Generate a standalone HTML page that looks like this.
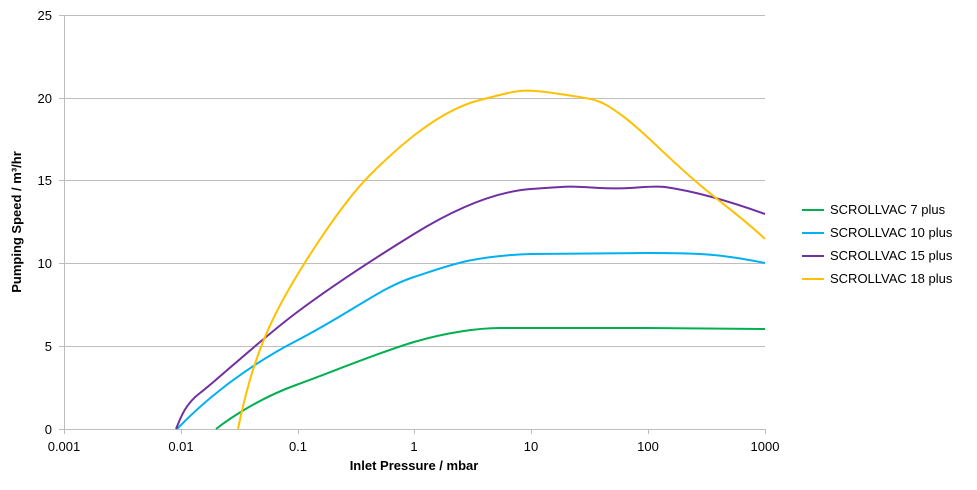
<!DOCTYPE html><html><head><style>body{margin:0;background:#fff}svg{display:block}text{font-family:"Liberation Sans",sans-serif;font-size:13px;fill:#000}</style></head><body>
<svg width="977" height="490" viewBox="0 0 977 490">
<g stroke="#bdbdbd" stroke-width="1">
<line x1="64" y1="15.5" x2="765" y2="15.5"/><line x1="64" y1="98.5" x2="765" y2="98.5"/><line x1="64" y1="180.5" x2="765" y2="180.5"/><line x1="64" y1="263.5" x2="765" y2="263.5"/><line x1="64" y1="346.5" x2="765" y2="346.5"/><line x1="64" y1="429.5" x2="765" y2="429.5"/>
<line x1="64.5" y1="15" x2="64.5" y2="429"/>
<line x1="59" y1="15.5" x2="64" y2="15.5"/><line x1="59" y1="98.5" x2="64" y2="98.5"/><line x1="59" y1="180.5" x2="64" y2="180.5"/><line x1="59" y1="263.5" x2="64" y2="263.5"/><line x1="59" y1="346.5" x2="64" y2="346.5"/><line x1="59" y1="429.5" x2="64" y2="429.5"/>
<line x1="64.5" y1="429" x2="64.5" y2="434"/><line x1="181.5" y1="429" x2="181.5" y2="434"/><line x1="298.5" y1="429" x2="298.5" y2="434"/><line x1="414.5" y1="429" x2="414.5" y2="434"/><line x1="531.5" y1="429" x2="531.5" y2="434"/><line x1="648.5" y1="429" x2="648.5" y2="434"/><line x1="765.5" y1="429" x2="765.5" y2="434"/>
</g>
<g text-anchor="end"><text x="52" y="20">25</text><text x="52" y="103">20</text><text x="52" y="185">15</text><text x="52" y="268">10</text><text x="52" y="351">5</text><text x="52" y="434">0</text></g>
<g text-anchor="middle"><text x="64" y="451">0.001</text><text x="181" y="451">0.01</text><text x="298" y="451">0.1</text><text x="414" y="451">1</text><text x="531" y="451">10</text><text x="648" y="451">100</text><text x="765" y="451">1000</text>
<text x="414" y="470" font-weight="bold">Inlet Pressure  / mbar</text>
<text transform="translate(21,222) rotate(-90)" font-weight="bold">Pumping Speed / m³/hr</text></g>
<g fill="none" stroke-width="2">
<path stroke="#00b050" d="M216,429 C230,418 260,398 296,385 S380,352 414,342 S480,328 500,328 L648,328 L765,329"/>
<path stroke="#00b0f0" d="M177,429 C200,405 240,370 296,341 S380,288 414,277 S470,256 531,254 L648,253 C700,253 720,254 765,263"/>
<path stroke="#7030a0" d="M176,429 C180,420 184,405 200,393 S260,340 296,313 S380,255 414,234 S490,192 531,189 S570,186 600,188 S648,185 665,187 C700,192 740,205 765,214"/>
<path stroke="#ffc000" d="M238,429 C245,395 255,355 275,315 S340,205 370,175 S440,110 480,100 S520,88 560,94 S600,100 620,114 S670,160 700,185 S745,220 765,239"/>
</g>
<g stroke-width="2"><line x1="802" y1="210" x2="824" y2="210" stroke="#00b050"/><line x1="802" y1="233" x2="824" y2="233" stroke="#00b0f0"/><line x1="802" y1="256" x2="824" y2="256" stroke="#7030a0"/><line x1="802" y1="279" x2="824" y2="279" stroke="#ffc000"/></g>
<text x="830" y="214">SCROLLVAC 7 plus</text><text x="830" y="237">SCROLLVAC 10 plus</text><text x="830" y="260">SCROLLVAC 15 plus</text><text x="830" y="283">SCROLLVAC 18 plus</text>
</svg></body></html>
